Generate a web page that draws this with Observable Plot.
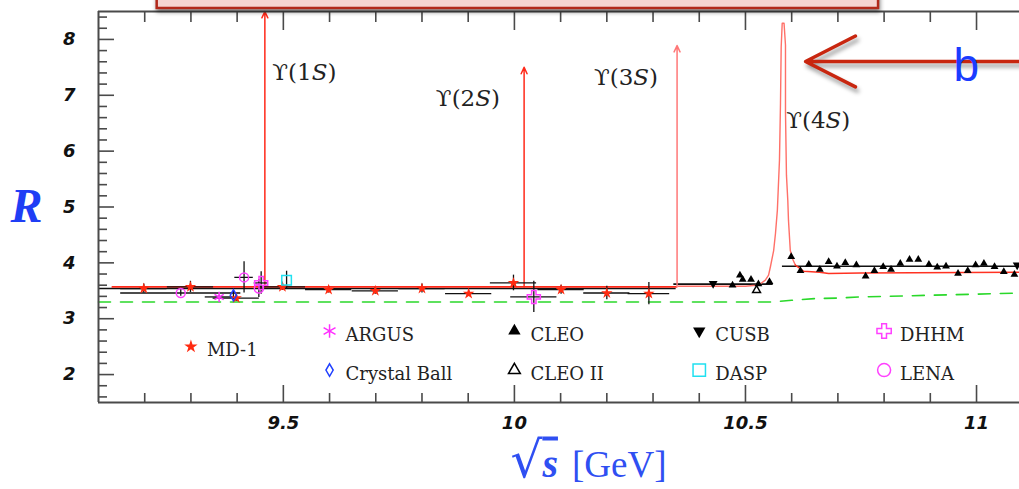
<!DOCTYPE html>
<html><head><meta charset="utf-8">
<script src="https://cdn.jsdelivr.net/npm/d3@7"></script>
<script src="https://cdn.jsdelivr.net/npm/@observablehq/plot@0.6"></script>
<style>
html,body{margin:0;padding:0;background:#fff;overflow:hidden}
#chart svg{display:block;overflow:hidden !important}
</style></head>
<body><div id="chart"></div>
<script>
// ---- axis ticks ----
const xMajorTicks = [9.5, 10, 10.5, 11];
const xMinorTicks = [9.2, 9.3, 9.4, 9.6, 9.7, 9.8, 9.9, 10.1, 10.2, 10.3, 10.4, 10.6, 10.7, 10.8, 10.9];
const yMajorTicks = [2, 3, 4, 5, 6, 7, 8];
const yMinorTicks = [1.6,1.8,2.2,2.4,2.6,2.8,3.2,3.4,3.6,3.8,4.2,4.4,4.6,4.8,5.2,5.4,5.6,5.8,6.2,6.4,6.6,6.8,7.2,7.4,7.6,7.8,8.2,8.4];

// ---- measurements: [sqrt(s), R, xerr, yerr] ----
const md1 = [[9.198,3.54,0.05,0.08],[9.299,3.57,0.05,0.10],[9.398,3.37,0.05,0.06],[9.498,3.57,0.05,0.06],
  [9.598,3.52,0.05,0.06],[9.699,3.50,0.05,0.06],[9.800,3.54,0.05,0.08],[9.901,3.45,0.05,0.05],
  [9.998,3.64,0.05,0.14],[10.101,3.52,0.05,0.08],[10.200,3.46,0.05,0.12],[10.291,3.45,0.045,0.20]];
const argus = [[9.361,3.39,0.03,0.03]];
const crystalBall = [[9.392,3.42,0,0.07]];
const lena = [[9.278,3.46,0.13,0.06],[9.415,3.74,0.02,0.28],[9.447,3.54,0,0.16]];
const dhhm = [[9.452,3.64,0.015,0.20],[10.042,3.39,0.05,0.28]];
const dasp = [[9.507,3.69,0,0.16]];
const cusb = [[10.43,3.63,0,0],[11.088,3.96,0,0]];
const cleo2 = [[10.524,3.51,0,0]];
const cleo = [[10.472,3.60],[10.488,3.78],[10.494,3.70],[10.512,3.70],[10.528,3.62],[10.552,3.66],
  [10.599,4.11],[10.619,3.86],[10.637,3.97],[10.661,3.88],[10.680,4.02],[10.698,3.94],[10.716,4.00],
  [10.740,3.96],[10.760,3.76],[10.779,3.86],[10.798,3.93],[10.815,3.88],[10.835,3.99],[10.855,4.06],
  [10.874,4.06],[10.897,3.97],[10.915,3.92],[10.934,3.94],[10.960,3.81],[10.981,3.86],[10.998,3.96],
  [11.016,3.99],[11.039,3.93],[11.059,3.84],[11.082,3.79]];

// ---- curves ----
const averageLines = [[9.1,10.35,3.54],[10.345,10.56,3.62],[10.58,11.093,3.94]]; // [x1,x2,R]
const redBelow = [[9.13,3.57],[10.35,3.57]];
const redPeak = [[10.355,3.58],[10.50,3.58],[10.522,3.60],[10.533,3.63],[10.543,3.69],[10.550,3.78],
  [10.554,3.93],[10.561,4.22],[10.565,4.53],[10.569,4.94],[10.5736,5.84],[10.5758,6.86],[10.5773,7.86],
  [10.5795,8.29],[10.5835,8.29],[10.5866,7.9],[10.5866,6.7],[10.5887,5.57],[10.5916,5.12],[10.5931,4.76],
  [10.597,4.22],[10.603,4.05],[10.608,3.96]];
const redTail = [[10.608,3.96],[10.626,3.85],[10.66,3.83],[10.68,3.81],[10.75,3.82],[11.093,3.83]];
const greenLine = [[9.1,3.30],[10.56,3.30],[10.6,3.33],[10.65,3.36],[10.7,3.37],[10.75,3.39],
  [10.85,3.41],[10.9,3.42],[11.0,3.44],[11.093,3.46]];

// ---- narrow resonances ----
const resonanceMass = [9.460, 10.021, 10.352];
const resonanceTop = [8.5, 7.5, 7.89];
const resonanceBase = 3.57;
const upsilonNames = ["ϒ(1S)", "ϒ(2S)", "ϒ(3S)", "ϒ(4S)"];
const upsilonX = [9.476, 9.83, 10.172, 10.588];
const upsilonY = [7.41, 6.94, 7.32, 6.55];

// ---- legend ----
const legendNames = ["MD-1","ARGUS","Crystal Ball","CLEO","CLEO II","CUSB","DASP","DHHM","LENA"];
const legendX = [9.3, 9.6, 9.6, 10.0, 10.0, 10.4, 10.4, 10.8, 10.8];
const legendY = [2.5, 2.78, 2.08, 2.78, 2.08, 2.78, 2.08, 2.78, 2.08];

// ---- slide annotations ----
const bannerBox = [[9.227, 10.788, 8.554, 9.3]];
const bArrow = [[11.3, 10.63, 7.606]];
const bLabel = ["b"];
const bX = [10.95];
const bY = [7.25];

const seriesData = {"MD-1": md1, "ARGUS": argus, "Crystal Ball": crystalBall, "CLEO": cleo,
  "CLEO II": cleo2, "CUSB": cusb, "DASP": dasp, "DHHM": dhhm, "LENA": lena};
const styles = {
  "MD-1": {symbol:"star", fill:"#ff2a10", stroke:"none", r:3.6, lr:4.2},
  "ARGUS": {symbol:"asterisk", fill:"none", stroke:"#ff30ff", r:5, lr:6.5},
  "Crystal Ball": {symbol:"diamond", fill:"none", stroke:"#2040ff", r:3.4, lr:3.8},
  "CLEO": {symbol:"triangle", fill:"#000", stroke:"none", r:2.9, lr:4.6},
  "CLEO II": {symbol:"triangle", fill:"none", stroke:"#000", r:2.9, lr:4.4},
  "CUSB": {symbol:"triangle", fill:"#000", stroke:"none", r:3.3, lr:4.6, rotate:180},
  "DASP": {symbol:"square", fill:"none", stroke:"#20e0f0", r:5.4, lr:7},
  "DHHM": {symbol:"cross", fill:"none", stroke:"#ff40ff", r:5.5, lr:6},
  "LENA": {symbol:"circle", fill:"none", stroke:"#ff40ff", r:4.5, lr:6.5}
};

const axisColor = "#4a4a4a";
const tickFont = {fontFamily:"DejaVu Sans", fontSize:18, fontWeight:"bold", fontStyle:"italic", fill:"#111"};

const errMarks = [];
const dotMarks = [];
for (const name of legendNames) {
  const data = seriesData[name];
  const s = styles[name];
  const withErr = data.filter(d => d.length > 2);
  errMarks.push(Plot.ruleY(withErr.filter(d => d[2] > 0), {y: d => d[1], x1: d => d[0]-d[2], x2: d => d[0]+d[2], stroke:"#111", strokeWidth:1.3}));
  errMarks.push(Plot.ruleX(withErr.filter(d => d[3] > 0), {x: d => d[0], y1: d => d[1]-d[3], y2: d => d[1]+d[3], stroke:"#111", strokeWidth:1.3}));
  dotMarks.push(Plot.dot(data, {x: d => d[0], y: d => d[1], symbol: s.symbol, fill: s.fill, stroke: s.stroke, r: s.r, rotate: s.rotate || 0, strokeWidth:1.5}));
}
const legendMarks = legendNames.map((name, i) => {
  const s = styles[name];
  return Plot.dot([i], {x: j => legendX[j], y: j => legendY[j], symbol: s.symbol, fill: s.fill, stroke: s.stroke, r: s.lr, rotate: s.rotate || 0, strokeWidth:1.5});
});
legendMarks.push(Plot.text(legendNames, {x: (d,i) => legendX[i], y: (d,i) => legendY[i], text: d => d, dx:16, dy:4,
  textAnchor:"start", fontFamily:"DejaVu Serif", fontSize:18, fill:"#222"}));

const chart = Plot.plot({
  width: 1019, height: 489,
  marginLeft: 98, marginRight: 0, marginTop: 11, marginBottom: 87,
  x: {domain: [9.1, 11.093]},
  y: {domain: [1.5, 8.5]},
  style: {background: "white"},
  marks: [
    Plot.line(greenLine, {x: d => d[0], y: d => d[1], stroke:"#2ad82a", strokeWidth:1.6, strokeDasharray:"12,10"}),
    Plot.ruleY(averageLines, {x1: d => d[0], x2: d => d[1], y: d => d[2], stroke:"#111", strokeWidth:1.6}),
    Plot.line(redBelow, {x: d => d[0], y: d => d[1], stroke:"#ff2a1a", strokeWidth:1.8}),
    Plot.line(redPeak, {x: d => d[0], y: d => d[1], stroke:"#ff7068", strokeWidth:1.4}),
    Plot.line(redTail, {x: d => d[0], y: d => d[1], stroke:"#ff3222", strokeWidth:1.5}),
    Plot.arrow(resonanceMass, {x: d => d, y1: resonanceBase, y2: (d,i) => resonanceTop[i],
      stroke: (d,i) => i === 2 ? "#ff7878" : "#ff2a1a", strokeWidth:1.5, headLength:7, headAngle:50}),
    ...errMarks,
    ...dotMarks,
    Plot.text(upsilonNames, {x: (d,i) => upsilonX[i], y: (d,i) => upsilonY[i], text: d => d, textAnchor:"start",
      fontFamily:"DejaVu Serif", fontSize:23, fill:"#222"}),
    ...legendMarks,
    // axes
    Plot.ruleY([1.5, 8.5], {stroke: axisColor, strokeWidth:2}),
    Plot.ruleX([9.1], {stroke: axisColor, strokeWidth:2}),
    Plot.axisX(xMajorTicks, {anchor:"bottom", tickSize:-17, tickPadding:31, stroke:axisColor, strokeWidth:1.6, label:null,
      tickFormat: d => String(d), ...tickFont}),
    Plot.axisX(xMinorTicks, {anchor:"bottom", tickSize:-9, stroke:axisColor, strokeWidth:1.6, label:null, tickFormat: () => ""}),
    Plot.axisX(xMajorTicks, {anchor:"top", tickSize:-18, stroke:axisColor, strokeWidth:1.6, label:null, tickFormat: () => ""}),
    Plot.axisX(xMinorTicks, {anchor:"top", tickSize:-10, stroke:axisColor, strokeWidth:1.6, label:null, tickFormat: () => ""}),
    Plot.axisY(yMajorTicks, {anchor:"left", tickSize:-16, tickPadding:39, stroke:axisColor, strokeWidth:1.6, label:null,
      tickFormat: d => String(d), ...tickFont}),
    Plot.axisY(yMinorTicks, {anchor:"left", tickSize:-9, stroke:axisColor, strokeWidth:1.6, label:null, tickFormat: () => ""}),
    // axis titles
    Plot.text(["R"], {frameAnchor:"left", dx:-72, text: d => d, textAnchor:"middle", fill:"#1f3ef5",
      fontFamily:"Liberation Serif", fontSize:48, fontWeight:"bold", fontStyle:"italic"}),
    Plot.text(["√s [GeV]"], {frameAnchor:"bottom-left", dx:412, dy:74, text: d => d, textAnchor:"start", fill:"#2f4ff2",
      fontFamily:"Liberation Serif", fontSize:37}),
    // slide annotations
    Plot.rect(bannerBox, {x1: d => d[0], x2: d => d[1], y1: d => d[2], y2: d => d[3], fill:"#f6d4d1", stroke:"#b2281a", strokeWidth:2.5}),
    Plot.arrow(bArrow, {x1: d => d[0], x2: d => d[1], y: d => d[2], stroke:"#c8260f", strokeWidth:3.5, headLength:24, headAngle:54}),
    Plot.text(bLabel, {x: (d,i) => bX[i], y: (d,i) => bY[i], text: d => d, textAnchor:"start", lineAnchor:"bottom",
      fill:"#1a3cff", fontFamily:"Liberation Sans", fontSize:46})
  ]
});
document.getElementById("chart").appendChild(chart);

// drop shadows on the slide annotations
d3.select(chart).selectAll('g[fill="#f6d4d1"]').style("filter", "drop-shadow(1px 3px 2px rgba(0,0,0,0.45))");
d3.select(chart).selectAll('g[stroke="#c8260f"]').style("filter", "drop-shadow(2px 4px 2px rgba(0,0,0,0.4))");

// typographic refinements (italic S in Υ labels, radical in x label)
d3.select(chart).selectAll("text").each(function() {
  const t = this.textContent;
  const sel = d3.select(this);
  const m = t.match(/^(ϒ\(\d)(S)(\))$/);
  if (m) {
    sel.text(null);
    sel.append("tspan").text(m[1]);
    sel.append("tspan").attr("font-style", "italic").text(m[2]);
    sel.append("tspan").text(m[3]);
  } else if (t === "√s [GeV]") {
    sel.text(null);
    sel.append("tspan").attr("font-size", 50).attr("font-family", "DejaVu Serif").text("√");
    sel.append("tspan").attr("font-style", "italic").attr("font-weight", "bold").attr("font-size", 40)
      .attr("text-decoration", "overline").style("text-decoration", "overline").text("s");
    sel.append("tspan").attr("dx", 14).text("[GeV]");
  }
});
</script></body></html>
